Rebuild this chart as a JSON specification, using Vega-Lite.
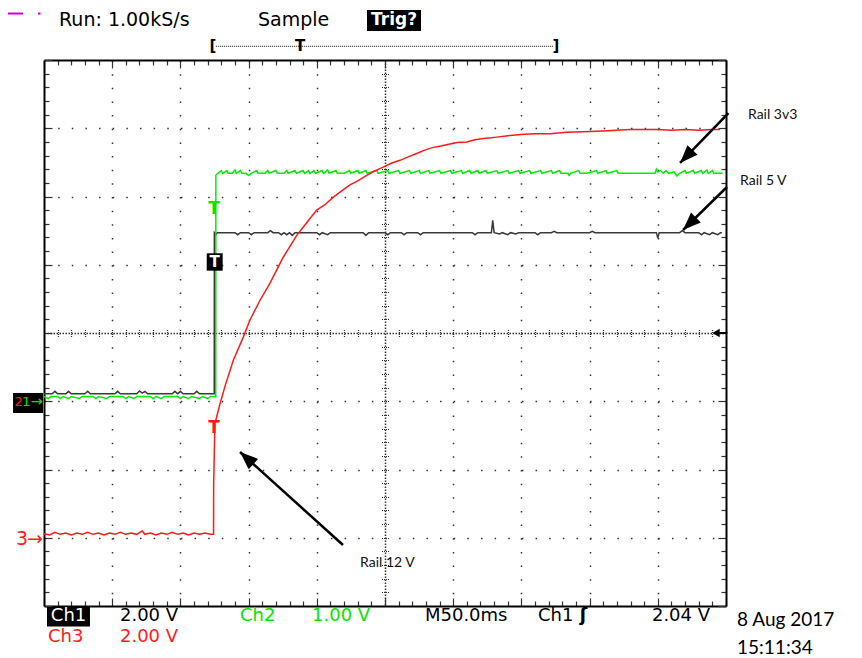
{
"$schema": "https://vega.github.io/schema/vega-lite/v6.json",
"width": 682, "height": 546,
"autosize": {"type": "none"},
"padding": {"left": 44, "top": 60, "right": 136, "bottom": 52},
"background": "white",
"config": {"view": {"stroke": null}},
"datasets": {
"ch1": [{"t":0,"v":-0.89},{"t":6,"v":-0.89},{"t":8,"v":-0.855},{"t":10,"v":-0.89},{"t":16,"v":-0.89},{"t":18,"v":-0.855},{"t":20,"v":-0.89},{"t":30,"v":-0.89},{"t":32,"v":-0.855},{"t":34,"v":-0.89},{"t":44,"v":-0.89},{"t":52,"v":-0.89},{"t":54,"v":-0.855},{"t":56,"v":-0.89},{"t":68,"v":-0.89},{"t":70,"v":-0.85},{"t":72,"v":-0.88},{"t":74,"v":-0.855},{"t":76,"v":-0.89},{"t":94,"v":-0.89},{"t":96,"v":-0.855},{"t":98,"v":-0.89},{"t":100,"v":-0.855},{"t":102,"v":-0.89},{"t":110,"v":-0.89},{"t":112,"v":-0.855},{"t":114,"v":-0.89},{"t":124.8,"v":-0.89},{"t":124.9,"v":1.47},{"t":126,"v":1.44},{"t":127,"v":1.47},{"t":140,"v":1.47},{"t":142,"v":1.44},{"t":144,"v":1.47},{"t":150,"v":1.47},{"t":152,"v":1.44},{"t":154,"v":1.47},{"t":164,"v":1.47},{"t":166,"v":1.5},{"t":168,"v":1.47},{"t":172,"v":1.47},{"t":174,"v":1.44},{"t":176,"v":1.47},{"t":178,"v":1.44},{"t":180,"v":1.47},{"t":182,"v":1.43},{"t":184,"v":1.47},{"t":200,"v":1.47},{"t":202,"v":1.44},{"t":204,"v":1.47},{"t":208,"v":1.44},{"t":210,"v":1.47},{"t":234,"v":1.47},{"t":236,"v":1.43},{"t":238,"v":1.47},{"t":250,"v":1.47},{"t":252,"v":1.44},{"t":254,"v":1.47},{"t":262,"v":1.47},{"t":264,"v":1.44},{"t":266,"v":1.47},{"t":274,"v":1.47},{"t":276,"v":1.44},{"t":278,"v":1.47},{"t":314,"v":1.47},{"t":316,"v":1.44},{"t":318,"v":1.47},{"t":328,"v":1.47},{"t":329,"v":1.65},{"t":330,"v":1.47},{"t":334,"v":1.45},{"t":336,"v":1.47},{"t":340,"v":1.44},{"t":342,"v":1.47},{"t":346,"v":1.45},{"t":348,"v":1.47},{"t":360,"v":1.47},{"t":362,"v":1.44},{"t":364,"v":1.47},{"t":372,"v":1.47},{"t":374,"v":1.49},{"t":376,"v":1.47},{"t":400,"v":1.47},{"t":402,"v":1.49},{"t":404,"v":1.47},{"t":449,"v":1.47},{"t":450,"v":1.39},{"t":451,"v":1.47},{"t":466,"v":1.47},{"t":468,"v":1.5},{"t":470,"v":1.47},{"t":480,"v":1.47},{"t":482,"v":1.44},{"t":484,"v":1.47},{"t":488,"v":1.44},{"t":490,"v":1.47},{"t":494,"v":1.44},{"t":496,"v":1.47},{"t":497,"v":1.47}],
"ch2": [{"t":0,"v":-0.93},{"t":3,"v":-0.96},{"t":5,"v":-0.93},{"t":10,"v":-0.93},{"t":12,"v":-0.96},{"t":14,"v":-0.93},{"t":18,"v":-0.96},{"t":20,"v":-0.93},{"t":26,"v":-0.96},{"t":28,"v":-0.93},{"t":36,"v":-0.93},{"t":38,"v":-0.96},{"t":40,"v":-0.93},{"t":46,"v":-0.96},{"t":48,"v":-0.93},{"t":58,"v":-0.93},{"t":60,"v":-0.96},{"t":62,"v":-0.93},{"t":66,"v":-0.96},{"t":68,"v":-0.93},{"t":78,"v":-0.93},{"t":80,"v":-0.96},{"t":82,"v":-0.93},{"t":86,"v":-0.96},{"t":88,"v":-0.93},{"t":98,"v":-0.93},{"t":100,"v":-0.96},{"t":102,"v":-0.93},{"t":106,"v":-0.96},{"t":108,"v":-0.93},{"t":114,"v":-0.96},{"t":116,"v":-0.93},{"t":120,"v":-0.96},{"t":122,"v":-0.93},{"t":125.9,"v":-0.93},{"t":126,"v":2.31},{"t":127.5,"v":2.34},{"t":130,"v":2.38},{"t":131,"v":2.34},{"t":134,"v":2.38},{"t":135,"v":2.34},{"t":138,"v":2.34},{"t":140,"v":2.39},{"t":141,"v":2.34},{"t":144,"v":2.38},{"t":145,"v":2.34},{"t":148,"v":2.34},{"t":150,"v":2.31},{"t":152,"v":2.34},{"t":156,"v":2.38},{"t":157,"v":2.34},{"t":162,"v":2.34},{"t":164,"v":2.38},{"t":165,"v":2.34},{"t":170,"v":2.38},{"t":171,"v":2.34},{"t":176,"v":2.34},{"t":178,"v":2.38},{"t":179,"v":2.34},{"t":184,"v":2.38},{"t":185,"v":2.34},{"t":190,"v":2.38},{"t":191,"v":2.34},{"t":194,"v":2.38},{"t":195,"v":2.34},{"t":198,"v":2.38},{"t":199,"v":2.34},{"t":204,"v":2.38},{"t":205,"v":2.34},{"t":208,"v":2.39},{"t":209,"v":2.34},{"t":214,"v":2.38},{"t":215,"v":2.34},{"t":220,"v":2.34},{"t":224,"v":2.38},{"t":225,"v":2.34},{"t":230,"v":2.38},{"t":231,"v":2.34},{"t":236,"v":2.38},{"t":237,"v":2.34},{"t":244,"v":2.38},{"t":245,"v":2.34},{"t":252,"v":2.38},{"t":253,"v":2.34},{"t":260,"v":2.38},{"t":261,"v":2.34},{"t":268,"v":2.38},{"t":269,"v":2.34},{"t":275,"v":2.38},{"t":276,"v":2.34},{"t":282,"v":2.38},{"t":283,"v":2.34},{"t":290,"v":2.38},{"t":291,"v":2.34},{"t":298,"v":2.38},{"t":299,"v":2.34},{"t":306,"v":2.38},{"t":307,"v":2.34},{"t":312,"v":2.38},{"t":313,"v":2.34},{"t":318,"v":2.38},{"t":319,"v":2.34},{"t":324,"v":2.38},{"t":325,"v":2.34},{"t":332,"v":2.38},{"t":333,"v":2.34},{"t":340,"v":2.38},{"t":341,"v":2.34},{"t":348,"v":2.38},{"t":349,"v":2.34},{"t":356,"v":2.38},{"t":357,"v":2.34},{"t":364,"v":2.38},{"t":365,"v":2.34},{"t":372,"v":2.38},{"t":373,"v":2.34},{"t":378,"v":2.38},{"t":379,"v":2.34},{"t":384,"v":2.34},{"t":385,"v":2.31},{"t":386,"v":2.34},{"t":392,"v":2.38},{"t":393,"v":2.34},{"t":398,"v":2.34},{"t":405,"v":2.38},{"t":406,"v":2.34},{"t":412,"v":2.38},{"t":413,"v":2.34},{"t":420,"v":2.38},{"t":421,"v":2.34},{"t":448,"v":2.34},{"t":449,"v":2.4},{"t":450,"v":2.36},{"t":452,"v":2.38},{"t":454,"v":2.34},{"t":456,"v":2.38},{"t":458,"v":2.34},{"t":462,"v":2.36},{"t":464,"v":2.3},{"t":466,"v":2.34},{"t":470,"v":2.38},{"t":471,"v":2.34},{"t":476,"v":2.38},{"t":477,"v":2.34},{"t":482,"v":2.38},{"t":483,"v":2.34},{"t":486,"v":2.39},{"t":487,"v":2.34},{"t":490,"v":2.38},{"t":491,"v":2.34},{"t":497.5,"v":2.34}],
"ch3": [{"t":0,"v":-2.94},{"t":4,"v":-2.96},{"t":8,"v":-2.92},{"t":12,"v":-2.95},{"t":16,"v":-2.93},{"t":20,"v":-2.96},{"t":24,"v":-2.93},{"t":28,"v":-2.95},{"t":32,"v":-2.92},{"t":36,"v":-2.95},{"t":40,"v":-2.93},{"t":44,"v":-2.96},{"t":48,"v":-2.93},{"t":52,"v":-2.95},{"t":56,"v":-2.92},{"t":60,"v":-2.95},{"t":64,"v":-2.93},{"t":68,"v":-2.95},{"t":72,"v":-2.9},{"t":74,"v":-2.95},{"t":78,"v":-2.93},{"t":82,"v":-2.96},{"t":86,"v":-2.93},{"t":90,"v":-2.95},{"t":94,"v":-2.92},{"t":98,"v":-2.95},{"t":102,"v":-2.93},{"t":106,"v":-2.96},{"t":110,"v":-2.93},{"t":114,"v":-2.95},{"t":118,"v":-2.93},{"t":122,"v":-2.95},{"t":124.3,"v":-2.95},{"t":124.4,"v":-2.2},{"t":125.3,"v":-1.33},{"t":129,"v":-1.04},{"t":133,"v":-0.76},{"t":138.8,"v":-0.4},{"t":146.1,"v":-0.06},{"t":151,"v":0.19},{"t":158.4,"v":0.48},{"t":165.7,"v":0.73},{"t":175.4,"v":1.11},{"t":185.3,"v":1.43},{"t":192,"v":1.6},{"t":199.9,"v":1.8},{"t":206,"v":1.88},{"t":212.1,"v":1.99},{"t":218,"v":2.08},{"t":224.3,"v":2.17},{"t":230,"v":2.23},{"t":236.6,"v":2.31},{"t":242,"v":2.37},{"t":248.7,"v":2.43},{"t":255,"v":2.49},{"t":261,"v":2.53},{"t":267,"v":2.58},{"t":273.2,"v":2.63},{"t":279,"v":2.68},{"t":285.4,"v":2.72},{"t":291,"v":2.74},{"t":297.6,"v":2.77},{"t":303,"v":2.79},{"t":309.9,"v":2.8},{"t":316,"v":2.83},{"t":322.1,"v":2.85},{"t":328,"v":2.86},{"t":331.9,"v":2.87},{"t":340,"v":2.89},{"t":349,"v":2.91},{"t":360,"v":2.92},{"t":371,"v":2.92},{"t":383,"v":2.94},{"t":395.4,"v":2.95},{"t":410,"v":2.96},{"t":429.6,"v":2.98},{"t":449.2,"v":2.98},{"t":460,"v":2.97},{"t":470,"v":2.98},{"t":480,"v":2.97},{"t":490,"v":2.98},{"t":495.6,"v":2.98}]
},
"layer": [
{"data": {"name": "ch1"}, "mark": {"type": "line", "color": "#3a3a3a", "strokeWidth": 1.5},
 "encoding": {
  "x": {"field": "t", "type": "quantitative", "scale": {"domain": [0, 500], "nice": false, "zero": false},
   "axis": {"orient": "bottom", "title": null, "labels": false, "values": [0,10,20,30,40,50,60,70,80,90,100,110,120,130,140,150,160,170,180,190,200,210,220,230,240,250,260,270,280,290,300,310,320,330,340,350,360,370,380,390,400,410,420,430,440,450,460,470,480,490,500],
    "domain": true, "domainColor": "#000", "domainWidth": 2,
    "ticks": true, "tickColor": "#333", "tickWidth": 1.2, "tickSize": {"condition": {"test": "datum.value % 50 === 0", "value": -8}, "value": -5},
    "grid": true, "gridColor": "#333", "gridWidth": 1.5,
    "gridDash": {"condition": {"test": "datum.value === 250", "value": [1.5, 1.5]}, "value": [1.5, 12.15]},
    "gridOpacity": {"condition": {"test": "datum.value % 50 === 0 && datum.value > 0 && datum.value < 500", "value": 1}, "value": 0}}},
  "y": {"field": "v", "type": "quantitative", "scale": {"domain": [-4, 4], "nice": false, "zero": false},
   "axis": {"orient": "left", "title": null, "labels": false, "values": [-4,-3.8,-3.6,-3.4,-3.2,-3,-2.8,-2.6,-2.4,-2.2,-2,-1.8,-1.6,-1.4,-1.2,-1,-0.8,-0.6,-0.4,-0.2,0,0.2,0.4,0.6,0.8,1,1.2,1.4,1.6,1.8,2,2.2,2.4,2.6,2.8,3,3.2,3.4,3.6,3.8,4],
    "domain": true, "domainColor": "#000", "domainWidth": 2,
    "ticks": true, "tickColor": "#333", "tickWidth": 1.2, "tickSize": {"condition": {"test": "abs(datum.value - round(datum.value)) < 0.01", "value": -8}, "value": -5},
    "grid": true, "gridColor": "#333", "gridWidth": 1.5,
    "gridDash": {"condition": {"test": "abs(datum.value) < 0.01", "value": [1.5, 1.5]}, "value": [1.5, 12.14]},
    "gridOpacity": {"condition": {"test": "abs(datum.value - round(datum.value)) < 0.01 && abs(datum.value) < 3.99", "value": 1}, "value": 0}}}
 }},
{"data": {"name": "ch2"}, "mark": {"type": "line", "color": "#00ee00", "strokeWidth": 1.5},
 "encoding": {
  "x": {"field": "t", "type": "quantitative", "scale": {"domain": [0, 500], "nice": false, "zero": false},
   "axis": {"orient": "top", "title": null, "labels": false, "values": [0,10,20,30,40,50,60,70,80,90,100,110,120,130,140,150,160,170,180,190,200,210,220,230,240,250,260,270,280,290,300,310,320,330,340,350,360,370,380,390,400,410,420,430,440,450,460,470,480,490,500],
    "domain": true, "domainColor": "#000", "domainWidth": 2, "grid": false,
    "ticks": true, "tickColor": "#333", "tickWidth": 1.2, "tickSize": {"condition": {"test": "datum.value % 50 === 0", "value": -8}, "value": -5}}},
  "y": {"field": "v", "type": "quantitative", "scale": {"domain": [-4, 4], "nice": false, "zero": false},
   "axis": {"orient": "right", "title": null, "labels": false, "values": [-4,-3.8,-3.6,-3.4,-3.2,-3,-2.8,-2.6,-2.4,-2.2,-2,-1.8,-1.6,-1.4,-1.2,-1,-0.8,-0.6,-0.4,-0.2,0,0.2,0.4,0.6,0.8,1,1.2,1.4,1.6,1.8,2,2.2,2.4,2.6,2.8,3,3.2,3.4,3.6,3.8,4],
    "domain": true, "domainColor": "#000", "domainWidth": 2, "grid": false,
    "ticks": true, "tickColor": "#333", "tickWidth": 1.2, "tickSize": {"condition": {"test": "abs(datum.value - round(datum.value)) < 0.01", "value": -8}, "value": -5}}}
 }},
{"data": {"name": "ch3"}, "mark": {"type": "line", "color": "#ff1a1a", "strokeWidth": 1.5},
 "encoding": {
  "x": {"field": "t", "type": "quantitative", "scale": {"domain": [0, 500], "nice": false, "zero": false},
   "axis": {"orient": "bottom", "offset": -276.5, "title": null, "labels": false, "domain": false, "grid": false, "values": [10,20,30,40,50,60,70,80,90,100,110,120,130,140,150,160,170,180,190,200,210,220,230,240,260,270,280,290,300,310,320,330,340,350,360,370,380,390,400,410,420,430,440,450,460,470,480,490],
    "ticks": true, "tickColor": "#333", "tickWidth": 1.2, "tickSize": 7, "tickDash": [1, 1]}},
  "y": {"field": "v", "type": "quantitative", "scale": {"domain": [-4, 4], "nice": false, "zero": false},
   "axis": {"orient": "left", "offset": -344.5, "title": null, "labels": false, "domain": false, "grid": false, "values": [-3.8,-3.6,-3.4,-3.2,-3,-2.8,-2.6,-2.4,-2.2,-2,-1.8,-1.6,-1.4,-1.2,-1,-0.8,-0.6,-0.4,-0.2,0.2,0.4,0.6,0.8,1,1.2,1.4,1.6,1.8,2,2.2,2.4,2.6,2.8,3,3.2,3.4,3.6,3.8],
    "ticks": true, "tickColor": "#333", "tickWidth": 1.2, "tickSize": 7, "tickDash": [1, 1]}}
 }},
{"data": {"values": [{"t":236.8,"t2":276.4,"v":4.733,"v2":4.425},{"t":2.2,"t2":33.7,"v":-4.015,"v2":-4.3},{"t":-22.7,"t2":-0.7,"v":-0.879,"v2":-1.172},{"t":119.3,"t2":131,"v":1.168,"v2":0.913}]},
 "mark": {"type": "rect", "color": "#000"},
 "encoding": {"x": {"field": "t", "type": "quantitative", "scale": {"domain": [0, 500], "nice": false, "zero": false}, "axis": null}, "x2": {"field": "t2"},
  "y": {"field": "v", "type": "quantitative", "scale": {"domain": [-4, 4], "nice": false, "zero": false}, "axis": null}, "y2": {"field": "v2"}}},
{"data": {"values": [{"t":501.8,"v":3.223,"t2":466.3,"v2":2.491},{"t":500.7,"v":2.139,"t2":468.5,"v2":1.509},{"t":219.2,"v":-3.106,"t2":143.7,"v2":-1.744}]},
 "mark": {"type": "rule", "color": "#000", "strokeWidth": 2.5},
 "encoding": {"x": {"field": "t", "type": "quantitative", "scale": {"domain": [0, 500], "nice": false, "zero": false}, "axis": null}, "x2": {"field": "t2"},
  "y": {"field": "v", "type": "quantitative", "scale": {"domain": [-4, 4], "nice": false, "zero": false}, "axis": null}, "y2": {"field": "v2"}}},
{"data": {"values": [{"t":466.3,"v":2.491}]}, "mark": {"type": "point", "shape": "M0,0L-0.7,1.8L0.7,1.8Z", "size": 400, "filled": true, "color": "#000", "opacity": 1, "angle": 223.8},
 "encoding": {"x": {"field": "t", "type": "quantitative", "scale": {"domain": [0, 500], "nice": false, "zero": false}, "axis": null},
  "y": {"field": "v", "type": "quantitative", "scale": {"domain": [-4, 4], "nice": false, "zero": false}, "axis": null}}},
{"data": {"values": [{"t":468.5,"v":1.509}]}, "mark": {"type": "point", "shape": "M0,0L-0.7,1.8L0.7,1.8Z", "size": 400, "filled": true, "color": "#000", "opacity": 1, "angle": 225.7},
 "encoding": {"x": {"field": "t", "type": "quantitative", "scale": {"domain": [0, 500], "nice": false, "zero": false}, "axis": null},
  "y": {"field": "v", "type": "quantitative", "scale": {"domain": [-4, 4], "nice": false, "zero": false}, "axis": null}}},
{"data": {"values": [{"t":143.7,"v":-1.744}]}, "mark": {"type": "point", "shape": "M0,0L-0.7,1.8L0.7,1.8Z", "size": 400, "filled": true, "color": "#000", "opacity": 1, "angle": 312.1},
 "encoding": {"x": {"field": "t", "type": "quantitative", "scale": {"domain": [0, 500], "nice": false, "zero": false}, "axis": null},
  "y": {"field": "v", "type": "quantitative", "scale": {"domain": [-4, 4], "nice": false, "zero": false}, "axis": null}}},
{"data": {"values": [{"t":492.7,"v":0}]}, "mark": {"type": "point", "shape": "triangle-left", "size": 70, "filled": true, "color": "#000", "opacity": 1},
 "encoding": {"x": {"field": "t", "type": "quantitative", "scale": {"domain": [0, 500], "nice": false, "zero": false}, "axis": null},
  "y": {"field": "v", "type": "quantitative", "scale": {"domain": [-4, 4], "nice": false, "zero": false}, "axis": null}}},
{"data": {"values": [{"t":492.7,"t2":501,"v":0}]}, "mark": {"type": "rule", "color": "#000", "strokeWidth": 2},
 "encoding": {"x": {"field": "t", "type": "quantitative", "scale": {"domain": [0, 500], "nice": false, "zero": false}, "axis": null}, "x2": {"field": "t2"},
  "y": {"field": "v", "type": "quantitative", "scale": {"domain": [-4, 4], "nice": false, "zero": false}, "axis": null}}},
{"data": {"values": [{"t":126,"t2":373.5,"v":4.2}]}, "mark": {"type": "rule", "color": "#444", "strokeWidth": 1.2, "strokeDash": [1, 1]},
 "encoding": {"x": {"field": "t", "type": "quantitative", "scale": {"domain": [0, 500], "nice": false, "zero": false}, "axis": null}, "x2": {"field": "t2"},
  "y": {"field": "v", "type": "quantitative", "scale": {"domain": [-4, 4], "nice": false, "zero": false}, "axis": null}}},
{"data": {"values": [{"t":-26.4,"t2":-15.4,"v":4.681},{"t":-4.4,"t2":-2.6,"v":4.681}]}, "mark": {"type": "rule", "color": "#cc00cc", "strokeWidth": 2},
 "encoding": {"x": {"field": "t", "type": "quantitative", "scale": {"domain": [0, 500], "nice": false, "zero": false}, "axis": null}, "x2": {"field": "t2"},
  "y": {"field": "v", "type": "quantitative", "scale": {"domain": [-4, 4], "nice": false, "zero": false}, "axis": null}}},
{"data": {"values": [{"t":11,"v":4.586,"txt":"Run: 1.00kS/s"},{"t":156.9,"v":4.586,"txt":"Sample"}]},
 "mark": {"type": "text", "align": "left", "baseline": "middle", "font": "DejaVu Sans", "fontSize": 19, "color": "#000"},
 "encoding": {"x": {"field": "t", "type": "quantitative", "scale": {"domain": [0, 500], "nice": false, "zero": false}, "axis": null},
  "y": {"field": "v", "type": "quantitative", "scale": {"domain": [-4, 4], "nice": false, "zero": false}, "axis": null}, "text": {"field": "txt"}}},
{"data": {"values": [{"t":55.7,"v":-4.147,"txt":"2.00 V"},{"t":279.3,"v":-4.147,"txt":"M50.0ms"},{"t":362.2,"v":-4.147,"txt":"Ch1"},{"t":445.7,"v":-4.147,"txt":"2.04 V"}]},
 "mark": {"type": "text", "align": "left", "baseline": "middle", "font": "DejaVu Sans", "fontSize": 18, "color": "#000"},
 "encoding": {"x": {"field": "t", "type": "quantitative", "scale": {"domain": [0, 500], "nice": false, "zero": false}, "axis": null},
  "y": {"field": "v", "type": "quantitative", "scale": {"domain": [-4, 4], "nice": false, "zero": false}, "axis": null}, "text": {"field": "txt"}}},
{"data": {"values": [{"t":395.5,"v":-4.147,"txt":"ʃ"}]},
 "mark": {"type": "text", "align": "center", "baseline": "middle", "font": "DejaVu Sans", "fontWeight": "bold", "fontSize": 18, "color": "#000"},
 "encoding": {"x": {"field": "t", "type": "quantitative", "scale": {"domain": [0, 500], "nice": false, "zero": false}, "axis": null},
  "y": {"field": "v", "type": "quantitative", "scale": {"domain": [-4, 4], "nice": false, "zero": false}, "axis": null}, "text": {"field": "txt"}}},
{"data": {"values": [{"t":143.7,"v":-4.147,"txt":"Ch2"},{"t":196.5,"v":-4.147,"txt":"1.00 V"}]},
 "mark": {"type": "text", "align": "left", "baseline": "middle", "font": "DejaVu Sans", "fontSize": 18, "color": "#00e600"},
 "encoding": {"x": {"field": "t", "type": "quantitative", "scale": {"domain": [0, 500], "nice": false, "zero": false}, "axis": null},
  "y": {"field": "v", "type": "quantitative", "scale": {"domain": [-4, 4], "nice": false, "zero": false}, "axis": null}, "text": {"field": "txt"}}},
{"data": {"values": [{"t":2.9,"v":-4.454,"txt":"Ch3"},{"t":55.7,"v":-4.454,"txt":"2.00 V"}]},
 "mark": {"type": "text", "align": "left", "baseline": "middle", "font": "DejaVu Sans", "fontSize": 18, "color": "#ff1a1a"},
 "encoding": {"x": {"field": "t", "type": "quantitative", "scale": {"domain": [0, 500], "nice": false, "zero": false}, "axis": null},
  "y": {"field": "v", "type": "quantitative", "scale": {"domain": [-4, 4], "nice": false, "zero": false}, "axis": null}, "text": {"field": "txt"}}},
{"data": {"values": [{"t":18,"v":-4.147,"txt":"Ch1"}]},
 "mark": {"type": "text", "align": "center", "baseline": "middle", "font": "DejaVu Sans", "fontSize": 18, "color": "#fff"},
 "encoding": {"x": {"field": "t", "type": "quantitative", "scale": {"domain": [0, 500], "nice": false, "zero": false}, "axis": null},
  "y": {"field": "v", "type": "quantitative", "scale": {"domain": [-4, 4], "nice": false, "zero": false}, "axis": null}, "text": {"field": "txt"}}},
{"data": {"values": [{"t":256.6,"v":4.58,"txt":"Trig?"}]},
 "mark": {"type": "text", "align": "center", "baseline": "middle", "font": "DejaVu Sans", "fontWeight": "bold", "fontSize": 17, "color": "#fff"},
 "encoding": {"x": {"field": "t", "type": "quantitative", "scale": {"domain": [0, 500], "nice": false, "zero": false}, "axis": null},
  "y": {"field": "v", "type": "quantitative", "scale": {"domain": [-4, 4], "nice": false, "zero": false}, "axis": null}, "text": {"field": "txt"}}},
{"data": {"values": [{"t":123.9,"v":4.2,"txt":"["},{"t":375.4,"v":4.2,"txt":"]"},{"t":187.7,"v":4.2,"txt":"T"}]},
 "mark": {"type": "text", "align": "center", "baseline": "middle", "font": "DejaVu Sans", "fontWeight": "bold", "fontSize": 15, "color": "#000"},
 "encoding": {"x": {"field": "t", "type": "quantitative", "scale": {"domain": [0, 500], "nice": false, "zero": false}, "axis": null},
  "y": {"field": "v", "type": "quantitative", "scale": {"domain": [-4, 4], "nice": false, "zero": false}, "axis": null}, "text": {"field": "txt"}}},
{"data": {"values": [{"t":508.1,"v":-4.205,"txt":"8 Aug 2017"},{"t":508.1,"v":-4.615,"txt":"15:11:34"}]},
 "mark": {"type": "text", "align": "left", "baseline": "middle", "font": "Lato", "fontSize": 19, "color": "#000"},
 "encoding": {"x": {"field": "t", "type": "quantitative", "scale": {"domain": [0, 500], "nice": false, "zero": false}, "axis": null},
  "y": {"field": "v", "type": "quantitative", "scale": {"domain": [-4, 4], "nice": false, "zero": false}, "axis": null}, "text": {"field": "txt"}}},
{"data": {"values": [{"t":516.1,"v":3.194,"txt":"Rail 3v3"},{"t":510.3,"v":2.227,"txt":"Rail 5 V"},{"t":231.7,"v":-3.37,"txt":"Rail 12 V"}]},
 "mark": {"type": "text", "align": "left", "baseline": "middle", "font": "Lato", "fontSize": 14, "color": "#111"},
 "encoding": {"x": {"field": "t", "type": "quantitative", "scale": {"domain": [0, 500], "nice": false, "zero": false}, "axis": null},
  "y": {"field": "v", "type": "quantitative", "scale": {"domain": [-4, 4], "nice": false, "zero": false}, "axis": null}, "text": {"field": "txt"}}},
{"data": {"values": [{"t":-18.6,"v":-1.011,"txt":"2"}]},
 "mark": {"type": "text", "align": "center", "baseline": "middle", "font": "DejaVu Sans", "fontSize": 13, "color": "#ff1a1a"},
 "encoding": {"x": {"field": "t", "type": "quantitative", "scale": {"domain": [0, 500], "nice": false, "zero": false}, "axis": null},
  "y": {"field": "v", "type": "quantitative", "scale": {"domain": [-4, 4], "nice": false, "zero": false}, "axis": null}, "text": {"field": "txt"}}},
{"data": {"values": [{"t":-16.1,"v":-3.018,"txt":"3"},{"t":-6.6,"v":-3.018,"txt":"→"}]},
 "mark": {"type": "text", "align": "center", "baseline": "middle", "font": "DejaVu Sans", "fontSize": 19, "color": "#ff1a1a"},
 "encoding": {"x": {"field": "t", "type": "quantitative", "scale": {"domain": [0, 500], "nice": false, "zero": false}, "axis": null},
  "y": {"field": "v", "type": "quantitative", "scale": {"domain": [-4, 4], "nice": false, "zero": false}, "axis": null}, "text": {"field": "txt"}}},
{"data": {"values": [{"t":-12.9,"v":-1.011,"txt":"1"}]},
 "mark": {"type": "text", "align": "center", "baseline": "middle", "font": "DejaVu Sans", "fontSize": 13, "color": "#00e600"},
 "encoding": {"x": {"field": "t", "type": "quantitative", "scale": {"domain": [0, 500], "nice": false, "zero": false}, "axis": null},
  "y": {"field": "v", "type": "quantitative", "scale": {"domain": [-4, 4], "nice": false, "zero": false}, "axis": null}, "text": {"field": "txt"}}},
{"data": {"values": [{"t":-5.3,"v":-1.011,"txt":"→"}]},
 "mark": {"type": "text", "align": "center", "baseline": "middle", "font": "DejaVu Sans", "fontSize": 14, "color": "#00e600"},
 "encoding": {"x": {"field": "t", "type": "quantitative", "scale": {"domain": [0, 500], "nice": false, "zero": false}, "axis": null},
  "y": {"field": "v", "type": "quantitative", "scale": {"domain": [-4, 4], "nice": false, "zero": false}, "axis": null}, "text": {"field": "txt"}}},
{"data": {"values": [{"t":124.6,"v":1.817,"txt":"T"}]},
 "mark": {"type": "text", "align": "center", "baseline": "middle", "font": "DejaVu Sans", "fontWeight": "bold", "fontSize": 17, "color": "#00e600"},
 "encoding": {"x": {"field": "t", "type": "quantitative", "scale": {"domain": [0, 500], "nice": false, "zero": false}, "axis": null},
  "y": {"field": "v", "type": "quantitative", "scale": {"domain": [-4, 4], "nice": false, "zero": false}, "axis": null}, "text": {"field": "txt"}}},
{"data": {"values": [{"t":125.1,"v":1.04,"txt":"T"}]},
 "mark": {"type": "text", "align": "center", "baseline": "middle", "font": "DejaVu Sans", "fontWeight": "bold", "fontSize": 15, "color": "#fff"},
 "encoding": {"x": {"field": "t", "type": "quantitative", "scale": {"domain": [0, 500], "nice": false, "zero": false}, "axis": null},
  "y": {"field": "v", "type": "quantitative", "scale": {"domain": [-4, 4], "nice": false, "zero": false}, "axis": null}, "text": {"field": "txt"}}},
{"data": {"values": [{"t":124.6,"v":-1.392,"txt":"T"}]},
 "mark": {"type": "text", "align": "center", "baseline": "middle", "font": "DejaVu Sans", "fontWeight": "bold", "fontSize": 17, "color": "#ff1a1a"},
 "encoding": {"x": {"field": "t", "type": "quantitative", "scale": {"domain": [0, 500], "nice": false, "zero": false}, "axis": null},
  "y": {"field": "v", "type": "quantitative", "scale": {"domain": [-4, 4], "nice": false, "zero": false}, "axis": null}, "text": {"field": "txt"}}}
],
"resolve": {"axis": {"x": "independent", "y": "independent"}}
}
